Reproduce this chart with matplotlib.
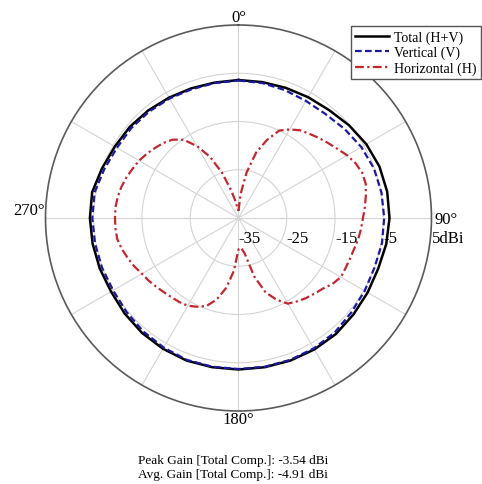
import numpy as np
import matplotlib
matplotlib.use('Agg')
import matplotlib.pyplot as plt

plt.rcParams['font.family'] = ['Liberation Serif', 'DejaVu Serif']

# pattern cuts (dB, angle clockwise from top)
ang_tv = list(range(0, 361, 10))
total = [-6.4, -6.4, -6.3, -6.1, -5.8, -5.1, -4.4, -3.9, -3.7, -3.7,
         -3.9, -4.2, -4.1, -3.9, -3.6, -3.55, -3.55, -3.6, -3.6, -3.6,
         -3.55, -3.7, -3.9, -4.2, -4.5, -4.4, -4.3, -4.2, -4.2, -4.9,
         -5.4, -5.6, -5.9, -6.2, -6.4, -6.5, -6.4]
vertical = [-6.5, -6.6, -6.8, -7.0, -6.9, -6.3, -5.6, -5.1, -4.9, -4.8,
            -4.8, -5.0, -4.8, -4.5, -4.0, -3.8, -3.7, -3.7, -3.7, -3.7,
            -3.7, -4.0, -4.3, -4.7, -5.0, -4.9, -4.8, -4.7, -4.7, -5.4,
            -5.9, -6.0, -6.2, -6.4, -6.6, -6.6, -6.5]

ang_h = list(range(0, 361, 5))
horizontal = [-33.5, -30, -25.5, -21, -17.8, -15, -13.8, -12.8, -12.2, -11.5,
              -10.8, -10.0, -9.0, -8.2, -7.7, -7.7, -8.2, -8.7, -9.2, -9.5,
              -9.8, -10.2, -10.4, -10.5, -10.5, -11.2, -12.2, -12.8, -13.3, -13.9,
              -14.5, -16.3, -18.6, -22.5, -27.5, -28.8, -28.5, -24, -20.3, -17.5,
              -15.6, -14.7, -14.0, -13.7, -13.5, -13.2, -12.8, -12.3, -11.9, -11.2,
              -10.6, -10.0, -9.5, -9.4, -9.4, -9.4, -9.6, -9.9, -10.3, -10.8,
              -11.2, -11.8, -12.4, -13.0, -13.8, -15.2, -17.8, -21, -25, -29,
              -31.5, -33, -33.5]

r_ticks = [-35, -25, -15, -5, 5]
r_labels = ['-35', '-25', '-15', '-5', '5dBi']

fig = plt.figure(figsize=(4.82, 4.85), dpi=100)
ax = fig.add_axes([0.0944, 0.1505, 0.8008, 0.7959], projection='polar')
ax.set_theta_zero_location('N')
ax.set_theta_direction(-1)
ax.set_rlim(-35, 5)

ax.set_rgrids([-25, -15, -5], labels=['', '', ''])
ax.set_thetagrids(range(0, 360, 30), labels=[''] * 12)
ax.grid(True, color='#d4d4d4', linewidth=0.8, linestyle='-')
ax.spines['polar'].set_color('#5a5a5a')
ax.spines['polar'].set_linewidth(1.2)

ax.plot(np.deg2rad(ang_tv), total, color='black', lw=1.8, label='Total (H+V)')
ax.plot(np.deg2rad(ang_tv), vertical, color='#1a1aa0', lw=1.6, ls=(0, (3, 1.5)),
        label='Vertical (V)')
ax.plot(np.deg2rad(ang_h), horizontal, color='#c0282d', lw=1.6,
        ls=(0, (4, 1.5, 1, 1.5)), label='Horizontal (H)')

fs = 12
for r, lab in zip(r_ticks, r_labels):
    ax.annotate(lab, xy=(np.pi / 2, r), xytext=(0, -20), textcoords='offset pixels',
                ha='left', va='center', fontsize=fs)

ax.text(0.5, 1.021, '0°', transform=ax.transAxes, ha='center', va='center', fontsize=fs)
ax.text(0.5, -0.021, '180°', transform=ax.transAxes, ha='center', va='center', fontsize=fs)
ax.text(-0.001, 0.52, '270°', transform=ax.transAxes, ha='right', va='center', fontsize=fs)
ax.text(1.008, 0.497, '90°', transform=ax.transAxes, ha='left', va='center', fontsize=fs)

leg = fig.legend(loc='upper right', bbox_to_anchor=(0.998, 0.944), fontsize=10,
                 fancybox=False, framealpha=1, edgecolor='#555555',
                 handlelength=2.4, handletextpad=0.4, borderpad=0.3,
                 labelspacing=0.15, borderaxespad=0)
leg.get_frame().set_linewidth(1.0)

fig.text(0.286, 1 - 461 / 485, 'Peak Gain [Total Comp.]: -3.54 dBi',
         ha='left', va='center', fontsize=9.5)
fig.text(0.286, 1 - 475 / 485, 'Avg. Gain [Total Comp.]: -4.91 dBi',
         ha='left', va='center', fontsize=9.5)

fig.savefig('out.png', dpi=100)
